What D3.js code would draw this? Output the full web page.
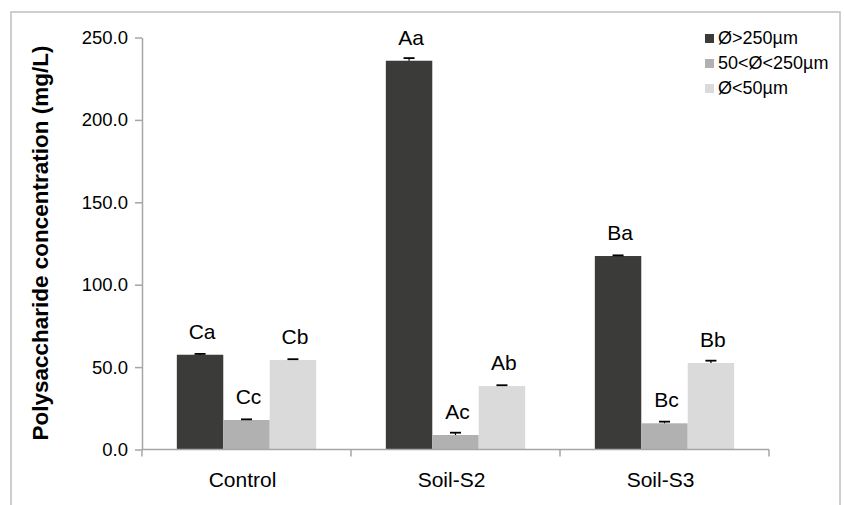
<!DOCTYPE html>
<html>
<head>
<meta charset="utf-8">
<script src="https://cdn.jsdelivr.net/npm/d3@7"></script>
<style>
  body { margin: 0; background: #fff; }
  svg text { font-family: "Liberation Sans", Arial, sans-serif; fill: #000; }
</style>
</head>
<body>
<div id="chart"></div>
<script>
let categories = ["Control", "Soil-S2", "Soil-S3"];
let seriesNames = ["Ø>250µm", "50<Ø<250µm", "Ø<50µm"];
let coarse = [57.5, 235.9, 117.4];
let medium = [17.9, 8.8, 15.9];
let fine = [54.3, 38.5, 52.5];
let coarseErr = [0.5, 1.6, 0.4];
let mediumErr = [0.4, 1.4, 1.0];
let fineErr = [0.5, 0.5, 1.4];
let coarseLetters = ["Ca", "Aa", "Ba"];
let mediumLetters = ["Cc", "Ac", "Bc"];
let fineLetters = ["Cb", "Ab", "Bb"];
let yTicks = [0, 50, 100, 150, 200, 250];

let colors = ["#3b3b39", "#b1b1b1", "#d9dad9"];

let values = [coarse, medium, fine];
let errors = [coarseErr, mediumErr, fineErr];
let letters = [coarseLetters, mediumLetters, fineLetters];

let data = [];
categories.forEach(function(c, i) {
    seriesNames.forEach(function(s, j) {
        data.push({cat: c, series: s, value: values[j][i], err: errors[j][i], label: letters[j][i], color: colors[j]});
    });
});

let margin = {container_width: 844, container_height: 505, top: 37.5, left: 142, right: 75, bottom: 55.5};
let width = margin.container_width - margin.left - margin.right,
    height = margin.container_height - margin.top - margin.bottom;

let svg = d3.select("#chart")
    .append("svg")
    .attr("width", margin.container_width)
    .attr("height", margin.container_height);

// outer frame
svg.append("rect")
    .attr("x", 11).attr("y", 12)
    .attr("width", 829).attr("height", 520)
    .attr("fill", "none")
    .attr("stroke", "#bfbfbf")
    .attr("stroke-width", 1.5);

let g = svg.append("g")
    .attr("transform", "translate(" + margin.left + "," + margin.top + ")");

let x = d3.scaleBand()
    .domain(categories)
    .range([0, width])
    .padding(0);

let xSub = d3.scaleBand()
    .domain(seriesNames)
    .range([0, x.bandwidth()])
    .paddingInner(0)
    .paddingOuter(0.75);

let y = d3.scaleLinear()
    .domain([0, 250])
    .range([height, 0]);

// y axis
let yAxis = g.append("g")
    .attr("class", "axis y-axis")
    .call(d3.axisLeft(y).tickValues(yTicks).tickFormat(d3.format(".1f")).tickSize(7).tickSizeOuter(0).tickPadding(7));

yAxis.select(".domain").attr("stroke", "#a6a6a6").attr("stroke-width", 1.5);
yAxis.selectAll(".tick line").attr("stroke", "#a6a6a6").attr("stroke-width", 1.5);
yAxis.selectAll(".tick text")
    .style("font-family", "'Liberation Sans', Arial, sans-serif")
    .style("font-size", "18.5px")
    .attr("fill", "#000");

// bars
g.append("g")
    .selectAll("rect")
    .data(data)
    .enter()
    .append("rect")
    .attr("x", function(d) { return x(d.cat) + xSub(d.series); })
    .attr("y", function(d) { return y(d.value); })
    .attr("width", xSub.bandwidth())
    .attr("height", function(d) { return height - y(d.value); })
    .attr("fill", function(d) { return d.color; });

// error bars (upper half)
let errG = g.append("g");
errG.selectAll("line.stem")
    .data(data)
    .enter()
    .append("line")
    .attr("class", "stem")
    .attr("x1", function(d) { return x(d.cat) + xSub(d.series) + xSub.bandwidth() / 2; })
    .attr("x2", function(d) { return x(d.cat) + xSub(d.series) + xSub.bandwidth() / 2; })
    .attr("y1", function(d) { return y(d.value); })
    .attr("y2", function(d) { return y(d.value + d.err); })
    .attr("stroke", "#000")
    .attr("stroke-width", 1.2);

errG.selectAll("line.cap")
    .data(data)
    .enter()
    .append("line")
    .attr("class", "cap")
    .attr("x1", function(d) { return x(d.cat) + xSub(d.series) + xSub.bandwidth() / 2 - 5.5; })
    .attr("x2", function(d) { return x(d.cat) + xSub(d.series) + xSub.bandwidth() / 2 + 5.5; })
    .attr("y1", function(d) { return y(d.value + d.err); })
    .attr("y2", function(d) { return y(d.value + d.err); })
    .attr("stroke", "#000")
    .attr("stroke-width", 1.8);

// significance letters
g.append("g")
    .selectAll("text")
    .data(data)
    .enter()
    .append("text")
    .attr("x", function(d) { return x(d.cat) + xSub(d.series) + xSub.bandwidth() / 2 + 2; })
    .attr("y", function(d) { return y(d.value) - 16; })
    .attr("text-anchor", "middle")
    .style("font-size", "21px")
    .text(function(d) { return d.label; });

// x axis
let xAxis = g.append("g")
    .attr("class", "axis x-axis")
    .attr("transform", "translate(0," + height + ")");

xAxis.append("line")
    .attr("x1", 0).attr("x2", width)
    .attr("y1", 0).attr("y2", 0)
    .attr("stroke", "#a6a6a6")
    .attr("stroke-width", 1.5);

let boundaries = categories.map(function(c) { return x(c); }).concat([width]);
xAxis.selectAll("line.tick")
    .data(boundaries)
    .enter()
    .append("line")
    .attr("class", "tick")
    .attr("x1", function(d) { return d; })
    .attr("x2", function(d) { return d; })
    .attr("y1", 0).attr("y2", 7)
    .attr("stroke", "#a6a6a6")
    .attr("stroke-width", 1.5);

xAxis.selectAll("text")
    .data(categories)
    .enter()
    .append("text")
    .attr("x", function(d) { return x(d) + x.bandwidth() / 2 - 4; })
    .attr("y", 37.5)
    .attr("text-anchor", "middle")
    .style("font-size", "21px")
    .text(function(d) { return d; });

// y label
svg.append("text")
    .attr("transform", "translate(48," + 243 + ") rotate(-90)")
    .attr("text-anchor", "middle")
    .style("font-size", "22.5px")
    .style("font-weight", "bold")
    .text("Polysaccharide concentration (mg/L)");

// legend
let legend = svg.append("g")
    .attr("transform", "translate(705,34)");

let items = legend.selectAll("g")
    .data(seriesNames)
    .enter()
    .append("g")
    .attr("transform", function(d, i) { return "translate(0," + (i * 25) + ")"; });

items.append("rect")
    .attr("width", 9).attr("height", 9)
    .attr("fill", function(d, i) { return colors[i]; });

items.append("text")
    .attr("x", 13)
    .attr("y", 10)
    .style("font-size", "18px")
    .text(function(d) { return d; });
</script>
</body>
</html>
